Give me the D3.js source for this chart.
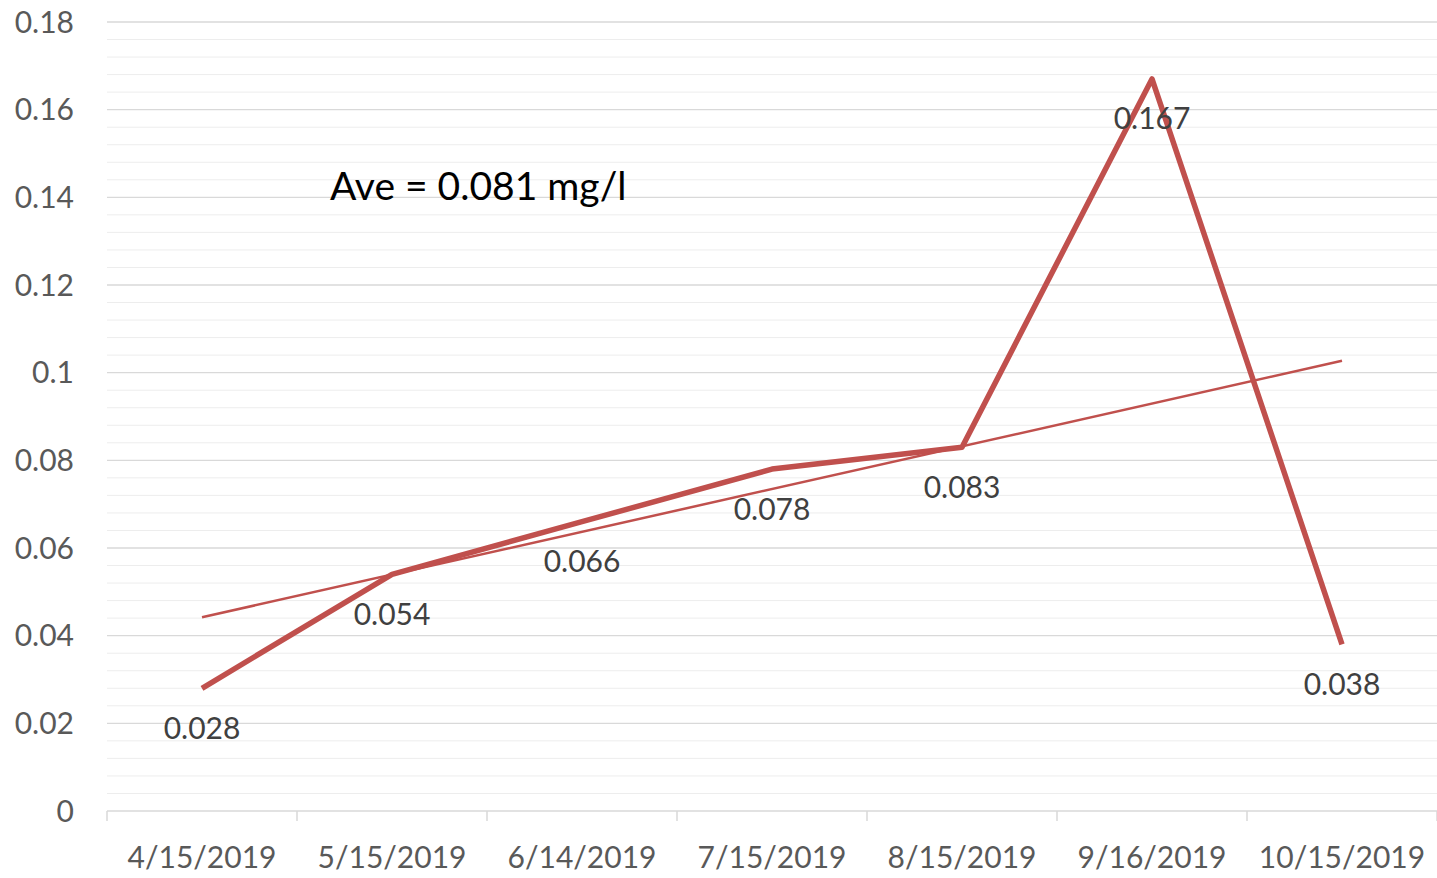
<!DOCTYPE html>
<html>
<head>
<meta charset="utf-8">
<script src="https://cdn.jsdelivr.net/npm/d3@7"></script>
<style>
  body { margin: 0; background: #ffffff; }
  svg { display: block; font-family: Lato, "Open Sans", sans-serif; }
</style>
</head>
<body>
<div id="chart"></div>
<script>
const dates = ["4/15/2019", "5/15/2019", "6/14/2019", "7/15/2019", "8/15/2019", "9/16/2019", "10/15/2019"];
const values = [0.028, 0.054, 0.066, 0.078, 0.083, 0.167, 0.038];
const labels = ["0.028", "0.054", "0.066", "0.078", "0.083", "0.167", "0.038"];
const trendDates = ["4/15/2019", "10/15/2019"];
const trendValues = [0.0442, 0.1027];
const yTicks = [0, 0.02, 0.04, 0.06, 0.08, 0.1, 0.12, 0.14, 0.16, 0.18];
const note = "Ave = 0.081 mg/l";

function drawChart() {
    const width = 1437;
    const height = 878;
    const margin = { top: 22, right: 0, bottom: 67, left: 107 };
    const red = "#c0504d";

    const svg = d3.select("#chart").append("svg").attr("width", width).attr("height", height);

    const x = d3.scaleBand().domain(dates).range([margin.left, width - margin.right]);
    const y = d3.scaleLinear().domain([0, 0.18]).range([height - margin.bottom, margin.top]);

    // minor gridlines, 5 per major step
    const minor = d3.range(0, 0.18, 0.004).map(v => +v.toFixed(3)).filter(v => !yTicks.some(t => Math.abs(t - v) < 1e-9));
    svg.append("g").selectAll("line").data(minor).join("line")
        .attr("x1", margin.left).attr("x2", width - margin.right)
        .attr("y1", d => y(d)).attr("y2", d => y(d))
        .attr("stroke", "#ededed").attr("stroke-width", 1);

    svg.append("g").selectAll("line").data(yTicks.filter(t => t > 0)).join("line")
        .attr("x1", margin.left).attr("x2", width - margin.right)
        .attr("y1", d => y(d)).attr("y2", d => y(d))
        .attr("stroke", "#d9d9d9").attr("stroke-width", 1.3);

    // y labels
    svg.append("g").selectAll("text").data(yTicks).join("text")
        .attr("x", 74).attr("y", d => y(d)).attr("dy", "0.35em")
        .attr("text-anchor", "end").attr("fill", "#595959").style("font-size", "30px")
        .text(d => d3.format("")(d));

    // x axis
    const xAxis = svg.append("g").attr("transform", `translate(0,${y(0)})`);
    xAxis.append("line").attr("x1", margin.left).attr("x2", width - margin.right)
        .attr("stroke", "#d9d9d9").attr("stroke-width", 1.5);
    const bounds = dates.map(d => x(d)).concat([x(dates[dates.length - 1]) + x.bandwidth()]);
    xAxis.selectAll("line.tick").data(bounds).join("line").attr("class", "tick")
        .attr("x1", d => d).attr("x2", d => d).attr("y1", 0).attr("y2", 10)
        .attr("stroke", "#d9d9d9").attr("stroke-width", 1.5);
    xAxis.selectAll("text").data(dates).join("text")
        .attr("x", d => x(d) + x.bandwidth() / 2).attr("y", 46).attr("dy", "0.35em")
        .attr("text-anchor", "middle").attr("fill", "#595959").style("font-size", "30px")
        .text(d => d);

    const cx = d => x(d) + x.bandwidth() / 2;

    // trendline
    svg.append("line")
        .attr("x1", cx(trendDates[0])).attr("y1", y(trendValues[0]))
        .attr("x2", cx(trendDates[1])).attr("y2", y(trendValues[1]))
        .attr("stroke", red).attr("stroke-width", 2.5);

    // data line
    const line = d3.line().x((d, i) => cx(dates[i])).y(d => y(d));
    svg.append("path").datum(values).attr("d", line)
        .attr("fill", "none").attr("stroke", red).attr("stroke-width", 5.5)
        .attr("stroke-linejoin", "round");

    // data labels under each point
    svg.append("g").selectAll("text").data(values).join("text")
        .attr("x", (d, i) => cx(dates[i])).attr("y", d => y(d) + 40).attr("dy", "0.35em")
        .attr("text-anchor", "middle").attr("fill", "#404040").style("font-size", "30px")
        .text((d, i) => labels[i]);

    svg.append("text").attr("x", 330).attr("y", 186).attr("dy", "0.35em")
        .attr("fill", "#000000").style("font-size", "39px").text(note);
}

drawChart();
</script>
</body>
</html>
